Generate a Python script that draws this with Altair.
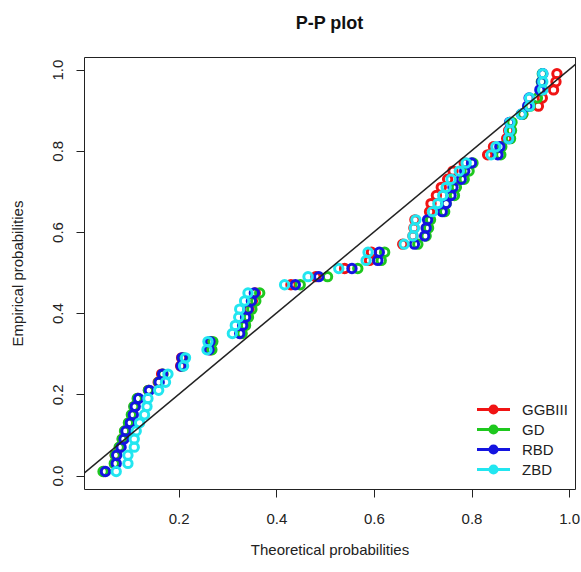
import altair as alt
import pandas as pd

series = ["GGBIII", "GD", "RBD", "ZBD"]
colors = ["#f01414", "#1ec81e", "#1414e0", "#22e6f0"]

emp = [0.01, 0.03, 0.05, 0.07, 0.09, 0.11, 0.13, 0.15, 0.17, 0.19,
       0.21, 0.23, 0.25, 0.27, 0.29, 0.31, 0.33, 0.35, 0.37, 0.39,
       0.41, 0.43, 0.45, 0.47, 0.49, 0.51, 0.53, 0.55, 0.57, 0.59,
       0.61, 0.63, 0.65, 0.67, 0.69, 0.71, 0.73, 0.75, 0.77, 0.79,
       0.81, 0.83, 0.85, 0.87, 0.89, 0.91, 0.93, 0.95, 0.97, 0.99]

x_ggb = [0.047, 0.069, 0.070, 0.079, 0.085, 0.090, 0.099, 0.105, 0.109, 0.116,
         0.138, 0.158, 0.165, 0.204, 0.206, 0.265, 0.266, 0.327, 0.333, 0.339,
         0.344, 0.351, 0.357, 0.430, 0.481, 0.540, 0.591, 0.595, 0.659, 0.680,
         0.682, 0.684, 0.714, 0.717, 0.728, 0.738, 0.751, 0.762, 0.785, 0.833,
         0.845, 0.872, 0.876, 0.880, 0.905, 0.937, 0.945, 0.968, 0.973, 0.975]

x_gd = [0.045, 0.068, 0.070, 0.078, 0.084, 0.089, 0.097, 0.103, 0.108, 0.115,
        0.138, 0.159, 0.168, 0.208, 0.211, 0.268, 0.270, 0.330, 0.337, 0.343,
        0.350, 0.358, 0.366, 0.449, 0.505, 0.567, 0.615, 0.622, 0.690, 0.707,
        0.712, 0.716, 0.745, 0.748, 0.765, 0.769, 0.785, 0.795, 0.803, 0.860,
        0.862, 0.880, 0.882, 0.883, 0.905, 0.920, 0.935, 0.942, 0.943, 0.945]

x_rbd = [0.050, 0.072, 0.073, 0.082, 0.088, 0.092, 0.101, 0.107, 0.111, 0.118,
         0.140, 0.160, 0.167, 0.205, 0.207, 0.262, 0.264, 0.325, 0.331, 0.337,
         0.342, 0.349, 0.355, 0.439, 0.487, 0.555, 0.608, 0.611, 0.683, 0.704,
         0.707, 0.710, 0.740, 0.748, 0.758, 0.762, 0.779, 0.786, 0.800, 0.854,
         0.858, 0.876, 0.878, 0.878, 0.902, 0.915, 0.918, 0.940, 0.944, 0.946]

x_zbd = [0.072, 0.096, 0.096, 0.109, 0.109, 0.113, 0.120, 0.130, 0.135, 0.137,
         0.159, 0.173, 0.178, 0.210, 0.214, 0.258, 0.260, 0.310, 0.316, 0.323,
         0.325, 0.335, 0.342, 0.417, 0.465, 0.528, 0.584, 0.588, 0.662, 0.680,
         0.683, 0.686, 0.720, 0.731, 0.741, 0.748, 0.758, 0.775, 0.789, 0.840,
         0.850, 0.876, 0.878, 0.879, 0.902, 0.919, 0.919, 0.946, 0.946, 0.946]

x_ticks = [0.2, 0.4, 0.6, 0.8, 1.0]
y_ticks = [0.0, 0.2, 0.4, 0.6, 0.8, 1.0]
x_domain = [0.006, 1.012]
y_domain = [-0.033, 1.031]
diag = [-0.1, 1.1]

rows = []
for s, xs_ in zip(series, [x_ggb, x_gd, x_rbd, x_zbd]):
    for xv, yv in zip(xs_, emp):
        rows.append({"theo": xv, "emp": yv, "model": s})
df = pd.DataFrame(rows)
df["ord"] = range(len(df))
line_df = pd.DataFrame({"a": diag, "b": diag})

FONT = "Liberation Sans"
xs = alt.Scale(domain=x_domain, nice=False, zero=False)
ys = alt.Scale(domain=y_domain, nice=False, zero=False)

legend_path = ("M-2.2,0L2.2,0"
               "M0.47,0A0.47,0.47,0,1,1,-0.47,0A0.47,0.47,0,1,1,0.47,0"
               "M0.2,0A0.2,0.2,0,1,1,-0.2,0A0.2,0.2,0,1,1,0.2,0")

points = alt.Chart(df).mark_point(
    shape="circle", filled=False, size=70, strokeWidth=3, opacity=1
).encode(
    x=alt.X("theo:Q", scale=xs, axis=alt.Axis(
        values=x_ticks, format=".1f", title="Theoretical probabilities",
        grid=False, domain=False, tickSize=8, labelPadding=14, labelFlush=False,
        titleY=60, titleBaseline="middle")),
    y=alt.Y("emp:Q", scale=ys, axis=alt.Axis(
        values=y_ticks, format=".1f", title="Empirical probabilities",
        grid=False, domain=False, tickSize=8, labelPadding=11, labelFlush=False,
        labelAngle=-90, labelAlign="center", labelBaseline="bottom",
        titleX=-67, titleY=216, titleAlign="center", titleBaseline="middle")),
    color=alt.Color("model:N", scale=alt.Scale(domain=series, range=colors),
                    legend=alt.Legend(
                        title=None, orient="none", legendX=400.5, legendY=343.5,
                        symbolType=legend_path, symbolSize=225, symbolStrokeWidth=3,
                        labelFont=FONT, labelFontSize=15, labelColor="#222",
                        labelOffset=19.5, rowPadding=0, padding=0)),
    order=alt.Order("ord:Q"),
)

diag_line = alt.Chart(line_df).mark_line(color="#222", strokeWidth=1.5, clip=True).encode(
    x=alt.X("a:Q", scale=xs),
    y=alt.Y("b:Q", scale=ys),
)

chart = alt.layer(points, diag_line).properties(
    width=491, height=432,
    title=alt.TitleParams("P-P plot", font=FONT, fontSize=18, fontWeight="bold",
                          color="#111", anchor="middle", offset=24),
    autosize=alt.AutoSizeParams(type="none"),
    padding={"left": 84, "top": 57, "right": 6, "bottom": 83},
).configure_view(
    stroke="#222", strokeWidth=1
).configure_axis(
    labelFont=FONT, titleFont=FONT, labelFontSize=15, titleFontSize=15,
    titleFontWeight="normal", labelColor="#222", titleColor="#222",
    tickColor="#222", tickWidth=1
)

chart.save("out.html", embed_options={"renderer": "svg", "actions": False})
